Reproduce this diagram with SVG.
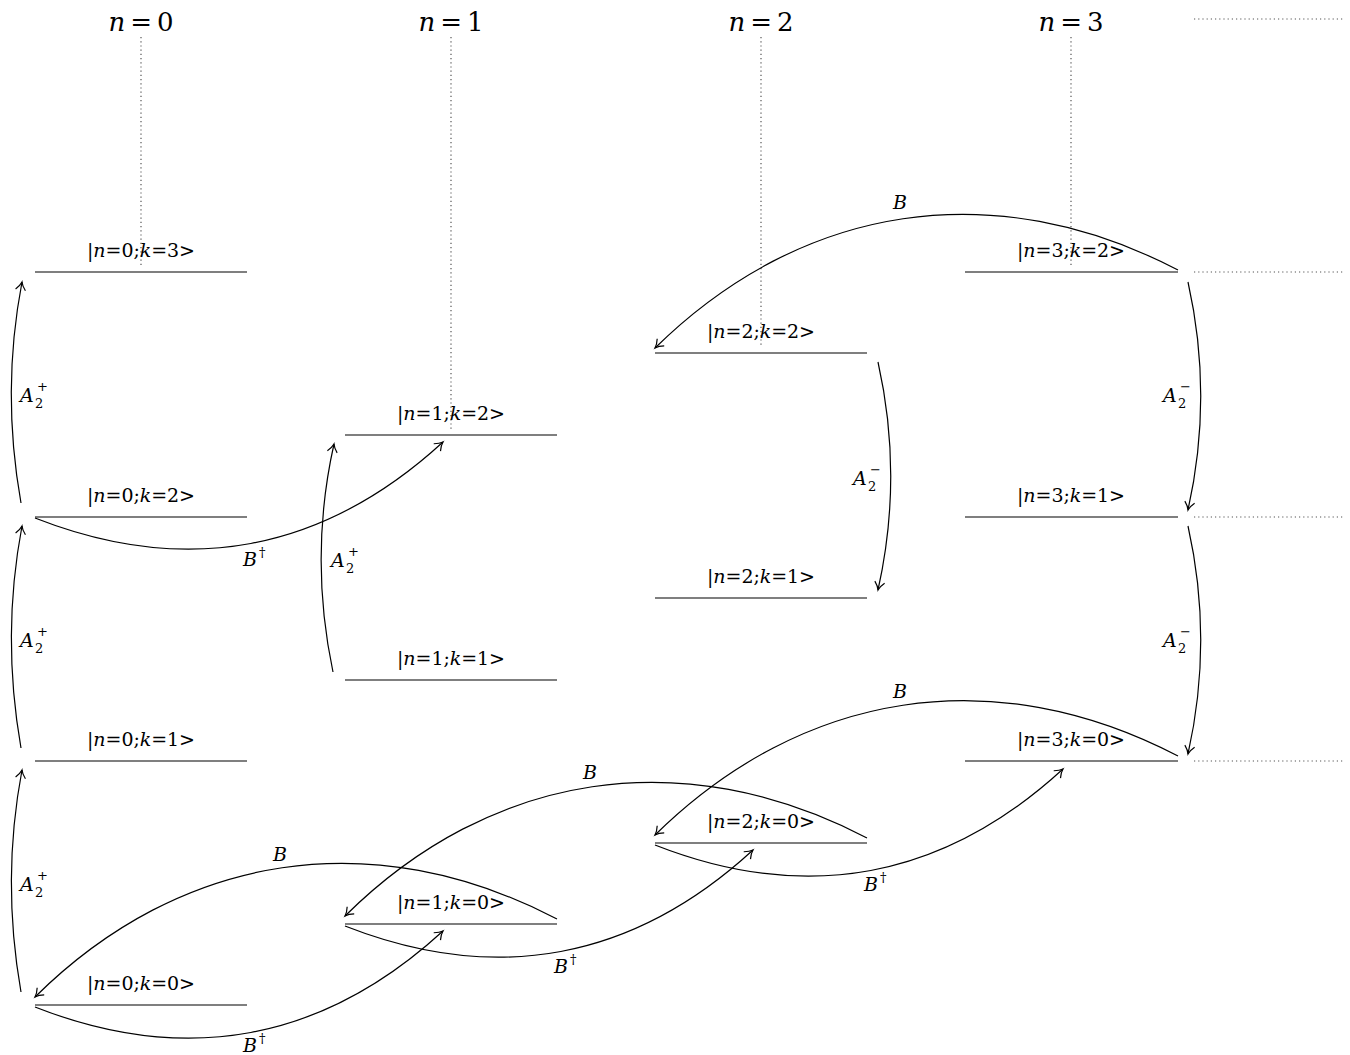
<svg xmlns="http://www.w3.org/2000/svg" width="1350" height="1055" viewBox="0 0 1350 1055">
<style>
text{font-family:'DejaVu Serif','Liberation Serif','Times New Roman',serif}
.hd{font-size:26px}
.nl{font-size:19px}
.el{font-size:19px}
.i{font-style:italic}
.s{font-size:13px}
.lvl{stroke:#000;stroke-width:1.2;fill:none}
.dot{stroke:#555;stroke-width:1.2;stroke-dasharray:1.2 3;fill:none}
.arr{stroke:#000;stroke-width:1.2;fill:none;marker-end:url(#ah)}
</style>
<defs>
<marker id="ah" markerUnits="userSpaceOnUse" orient="auto" refX="0" refY="0" markerWidth="20" markerHeight="20" viewBox="-10 -10 20 20" overflow="visible">
<path d="M-8,-5 C-5,-2.2 -2,-0.6 0,0 C-2,0.6 -5,2.2 -8,5" fill="none" stroke="#000" stroke-width="1.2"/>
</marker>
</defs>
<g fill="#000">
<g id="headers">
<text class="hd" x="141" y="31" text-anchor="middle" textLength="65"><tspan class="i">n</tspan> = 0</text>
<text class="hd" x="451" y="31" text-anchor="middle" textLength="65"><tspan class="i">n</tspan> = 1</text>
<text class="hd" x="761" y="31" text-anchor="middle" textLength="65"><tspan class="i">n</tspan> = 2</text>
<text class="hd" x="1071" y="31" text-anchor="middle" textLength="65"><tspan class="i">n</tspan> = 3</text>
</g>

<g id="guides">
<line class="dot" x1="141" y1="37" x2="141" y2="266"/>
<line class="dot" x1="451" y1="37" x2="451" y2="429"/>
<line class="dot" x1="761" y1="37" x2="761" y2="347"/>
<line class="dot" x1="1071" y1="37" x2="1071" y2="266"/>
<line class="dot" x1="1194" y1="19" x2="1344" y2="19"/>
<line class="dot" x1="1194" y1="272" x2="1344" y2="272"/>
<line class="dot" x1="1194" y1="517" x2="1344" y2="517"/>
<line class="dot" x1="1194" y1="761" x2="1344" y2="761"/>
</g>

<g id="n0k3"><line class="lvl" x1="35" y1="272" x2="247" y2="272"/><text class="nl" x="141" y="257" text-anchor="middle" textLength="108">|<tspan class="i">n</tspan>=0;<tspan class="i">k</tspan>=3&gt;</text></g>
<g id="n0k2"><line class="lvl" x1="35" y1="517" x2="247" y2="517"/><text class="nl" x="141" y="502" text-anchor="middle" textLength="108">|<tspan class="i">n</tspan>=0;<tspan class="i">k</tspan>=2&gt;</text></g>
<g id="n0k1"><line class="lvl" x1="35" y1="761" x2="247" y2="761"/><text class="nl" x="141" y="746" text-anchor="middle" textLength="108">|<tspan class="i">n</tspan>=0;<tspan class="i">k</tspan>=1&gt;</text></g>
<g id="n0k0"><line class="lvl" x1="35" y1="1005" x2="247" y2="1005"/><text class="nl" x="141" y="990" text-anchor="middle" textLength="108">|<tspan class="i">n</tspan>=0;<tspan class="i">k</tspan>=0&gt;</text></g>

<g id="n1k2"><line class="lvl" x1="345" y1="435" x2="557" y2="435"/><text class="nl" x="451" y="420" text-anchor="middle" textLength="108">|<tspan class="i">n</tspan>=1;<tspan class="i">k</tspan>=2&gt;</text></g>
<g id="n1k1"><line class="lvl" x1="345" y1="680" x2="557" y2="680"/><text class="nl" x="451" y="665" text-anchor="middle" textLength="108">|<tspan class="i">n</tspan>=1;<tspan class="i">k</tspan>=1&gt;</text></g>
<g id="n1k0"><line class="lvl" x1="345" y1="924" x2="557" y2="924"/><text class="nl" x="451" y="909" text-anchor="middle" textLength="108">|<tspan class="i">n</tspan>=1;<tspan class="i">k</tspan>=0&gt;</text></g>

<g id="n2k2"><line class="lvl" x1="655" y1="353" x2="867" y2="353"/><text class="nl" x="761" y="338" text-anchor="middle" textLength="108">|<tspan class="i">n</tspan>=2;<tspan class="i">k</tspan>=2&gt;</text></g>
<g id="n2k1"><line class="lvl" x1="655" y1="598" x2="867" y2="598"/><text class="nl" x="761" y="583" text-anchor="middle" textLength="108">|<tspan class="i">n</tspan>=2;<tspan class="i">k</tspan>=1&gt;</text></g>
<g id="n2k0"><line class="lvl" x1="655" y1="843" x2="867" y2="843"/><text class="nl" x="761" y="828" text-anchor="middle" textLength="108">|<tspan class="i">n</tspan>=2;<tspan class="i">k</tspan>=0&gt;</text></g>

<g id="n3k2"><line class="lvl" x1="965" y1="272" x2="1178" y2="272"/><text class="nl" x="1071" y="257" text-anchor="middle" textLength="108">|<tspan class="i">n</tspan>=3;<tspan class="i">k</tspan>=2&gt;</text></g>
<g id="n3k1"><line class="lvl" x1="965" y1="517" x2="1178" y2="517"/><text class="nl" x="1071" y="502" text-anchor="middle" textLength="108">|<tspan class="i">n</tspan>=3;<tspan class="i">k</tspan>=1&gt;</text></g>
<g id="n3k0"><line class="lvl" x1="965" y1="761" x2="1178" y2="761"/><text class="nl" x="1071" y="746" text-anchor="middle" textLength="108">|<tspan class="i">n</tspan>=3;<tspan class="i">k</tspan>=0&gt;</text></g>

<g id="connectors">
<path class="arr" d="M21,503 C8,430 8,355 22,282"/>
<path class="arr" d="M21,748 C8,674 8,600 22,526"/>
<path class="arr" d="M21,992 C8,918 8,844 22,770"/>
<path class="arr" d="M333,672 C317,596 317,520 334,444"/>
<path class="arr" d="M878,362 C895,438 895,514 878,590"/>
<path class="arr" d="M1188,282 C1205,358 1205,434 1188,510"/>
<path class="arr" d="M1188,526 C1205,602 1205,678 1188,754"/>

<path class="arr" d="M1178,270 C994.4,174.4 802.7,202.9 655,348"/>
<path class="arr" d="M1178,756 C994.4,660.4 802.7,689.9 655,835"/>
<path class="arr" d="M867,838 C683.4,742.4 491.7,770.9 345,916"/>
<path class="arr" d="M557,919 C373.4,823.4 181.7,851.9 35,997"/>

<path class="arr" d="M35,518 C186.2,577.4 323.3,551.9 443,442"/>
<path class="arr" d="M35,1007 C186.2,1066.4 323.3,1040.9 443,931"/>
<path class="arr" d="M345,926 C496.2,985.4 633.3,959.9 753,850"/>
<path class="arr" d="M655,845 C806.2,904.4 943.3,878.9 1063,769"/>

<text class="el"><tspan class="i" x="20" y="402">A</tspan><tspan class="s" x="35" y="408">2</tspan><tspan class="s" x="37" y="391">+</tspan></text>
<text class="el"><tspan class="i" x="20" y="647">A</tspan><tspan class="s" x="35" y="653">2</tspan><tspan class="s" x="37" y="636">+</tspan></text>
<text class="el"><tspan class="i" x="20" y="891">A</tspan><tspan class="s" x="35" y="897">2</tspan><tspan class="s" x="37" y="880">+</tspan></text>
<text class="el"><tspan class="i" x="331" y="567">A</tspan><tspan class="s" x="346" y="573">2</tspan><tspan class="s" x="348" y="556">+</tspan></text>
<text class="el"><tspan class="i" x="853" y="485">A</tspan><tspan class="s" x="868" y="491">2</tspan><tspan class="s" x="870" y="474">−</tspan></text>
<text class="el"><tspan class="i" x="1163" y="402">A</tspan><tspan class="s" x="1178" y="408">2</tspan><tspan class="s" x="1180" y="391">−</tspan></text>
<text class="el"><tspan class="i" x="1163" y="647">A</tspan><tspan class="s" x="1178" y="653">2</tspan><tspan class="s" x="1180" y="636">−</tspan></text>

<text class="el i" x="900" y="209" text-anchor="middle">B</text>
<text class="el i" x="900" y="698" text-anchor="middle">B</text>
<text class="el i" x="590" y="779" text-anchor="middle">B</text>
<text class="el i" x="280" y="861" text-anchor="middle">B</text>

<text class="el"><tspan class="i" x="243" y="566">B</tspan><tspan class="s" x="259" y="557">†</tspan></text>
<text class="el"><tspan class="i" x="243" y="1052">B</tspan><tspan class="s" x="259" y="1043">†</tspan></text>
<text class="el"><tspan class="i" x="554" y="973">B</tspan><tspan class="s" x="570" y="964">†</tspan></text>
<text class="el"><tspan class="i" x="864" y="891">B</tspan><tspan class="s" x="880" y="882">†</tspan></text>
</g>
</g>
</svg>
